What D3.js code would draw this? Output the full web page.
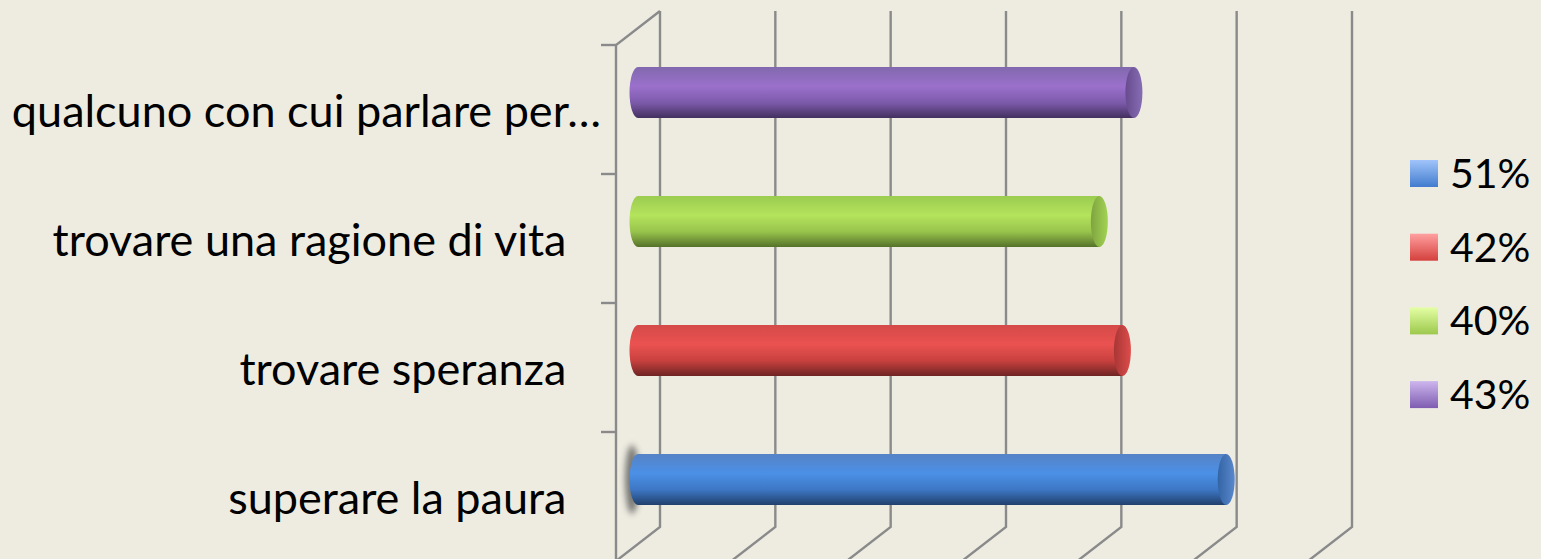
<!DOCTYPE html>
<html>
<head>
<meta charset="utf-8">
<script src="https://cdn.jsdelivr.net/npm/d3@7"></script>
<style>
  html, body { margin: 0; padding: 0; background: #EEECE1; }
  svg { display: block; }
  text { font-family: "Lato", "Open Sans", sans-serif; fill: #000; white-space: pre; }
</style>
</head>
<body>
<div id="chart"></div>
<script>
// chart data
var categories = ["superare la paura", "trovare speranza", "trovare una ragione di vita", "qualcuno con cui parlare per…"];
var values = [51, 42, 40, 43];
var seriesNames = ["51%", "42%", "40%", "43%"];
var xTicks = [0, 10, 20, 30, 40, 50, 60];

// colours of each series: [top, highlight, lower, bottom] and legend [light, dark]
var barColors = [
  ["#5683C6", "#4B90E6", "#3D77C4", "#213F6C"],
  ["#D44A48", "#EA5250", "#C8413F", "#6E2423"],
  ["#9CCC50", "#B4E35C", "#98C44C", "#55722A"],
  ["#8169AE", "#9B70CC", "#7C5AAA", "#43305F"]
];
var legendColors = [
  ["#A0C4FA", "#427CCE"],
  ["#FFA0A0", "#D4403C"],
  ["#E4FFA4", "#9CC84C"],
  ["#CDB6EE", "#7E5CB0"]
];

var W = 1541, H = 559;
var frontX = 616, frontTop = 45, frontBottom = 561;
var depthX = 44, depthY = -34;
var gridColor = "#8A8A8A";

var svg = d3.select("#chart").append("svg")
  .attr("width", W).attr("height", H);

svg.append("rect").attr("width", W).attr("height", H).attr("fill", "#EEECE1");

var defs = svg.append("defs");

var x = d3.scaleLinear().domain([0, 60]).range([0, 692]);
var y = d3.scaleBand()
  .domain(categories.slice().reverse())
  .range([frontTop, frontBottom])
  .paddingInner(0).paddingOuter(0);

// gradients
barColors.forEach(function(c, i) {
  var g = defs.append("linearGradient").attr("id", "bar" + i)
    .attr("x1", 0).attr("y1", 0).attr("x2", 0).attr("y2", 1);
  g.append("stop").attr("offset", "0%").attr("stop-color", c[0]);
  g.append("stop").attr("offset", "38%").attr("stop-color", c[1]);
  g.append("stop").attr("offset", "70%").attr("stop-color", c[2]);
  g.append("stop").attr("offset", "100%").attr("stop-color", c[3]);

  var cap = defs.append("linearGradient").attr("id", "cap" + i)
    .attr("x1", 0).attr("y1", 0).attr("x2", 1).attr("y2", 0);
  cap.append("stop").attr("offset", "0%").attr("stop-color", d3.color(c[2]).darker(0.5));
  cap.append("stop").attr("offset", "100%").attr("stop-color", d3.color(c[0]).brighter(0.1));

  var lg = defs.append("linearGradient").attr("id", "leg" + i)
    .attr("x1", 0).attr("y1", 0).attr("x2", 0).attr("y2", 1);
  lg.append("stop").attr("offset", "0%").attr("stop-color", legendColors[i][0]);
  lg.append("stop").attr("offset", "100%").attr("stop-color", legendColors[i][1]);
});

defs.append("filter").attr("id", "blur")
  .attr("x", "-100%").attr("y", "-50%").attr("width", "300%").attr("height", "200%")
  .append("feGaussianBlur").attr("stdDeviation", 3);

// walls and gridlines
var grid = svg.append("g")
  .attr("fill", "none")
  .attr("stroke", gridColor)
  .attr("stroke-width", 2.4);

var backX = frontX + depthX;
var backTop = frontTop + depthY;
var backBottom = frontBottom + depthY;

grid.selectAll(".gv").data(xTicks).enter().append("path")
  .attr("class", "gv")
  .attr("d", function(t) {
    var bx = backX + x(t);
    return "M" + bx + "," + backTop +
      "L" + bx + "," + backBottom +
      "L" + (bx - depthX) + "," + (backBottom - depthY);
  });

// left wall: top edge and front axis
grid.append("path")
  .attr("d", "M" + backX + "," + backTop + "L" + frontX + "," + frontTop + "L" + frontX + "," + frontBottom);

// category ticks on the front axis
var bounds = y.domain().map(function(d) { return y(d); }).concat([frontBottom]);
grid.selectAll(".tk").data(bounds).enter().append("line")
  .attr("class", "tk")
  .attr("x1", frontX - 15).attr("x2", frontX)
  .attr("y1", function(d) { return d; }).attr("y2", function(d) { return d; });

// cylinders
var r = 25.5, rx = 8.5;
var barX0 = frontX + depthX / 2;

var bars = svg.append("g").selectAll("g").data(categories).enter().append("g");

function yc(d) { return y(d) + y.bandwidth() / 2 + depthY / 2; }

// soft shadow behind the lowest bar
bars.filter(function(d, i) { return i === 0; }).append("ellipse")
  .attr("cx", barX0 - 6).attr("cy", function(d) { return yc(d); })
  .attr("rx", 7).attr("ry", r + 9)
  .attr("fill", "#444").attr("opacity", 0.7)
  .attr("filter", "url(#blur)");

bars.append("path")
  .attr("fill", function(d, i) { return "url(#bar" + i + ")"; })
  .attr("d", function(d, i) {
    var c = yc(d), x1 = barX0 + x(values[i]);
    return "M" + x1 + "," + (c - r) +
      "L" + barX0 + "," + (c - r) +
      "A" + rx + "," + r + " 0 0 0 " + barX0 + "," + (c + r) +
      "L" + x1 + "," + (c + r) + "Z";
  });

bars.append("ellipse")
  .attr("cx", function(d, i) { return barX0 + x(values[i]); })
  .attr("cy", function(d) { return yc(d); })
  .attr("rx", rx).attr("ry", r)
  .attr("fill", function(d, i) { return "url(#cap" + i + ")"; });

// category labels
var labelTrail = ["   ", "   ", "   ", ""];
svg.append("g").selectAll("text").data(categories).enter().append("text")
  .attr("x", 601)
  .attr("y", function(d) { return y(d) + y.bandwidth() / 2 + 17.5; })
  .attr("text-anchor", "end")
  .attr("font-size", 45)
  .text(function(d, i) { return d + labelTrail[i]; });

// legend
var legend = svg.append("g").selectAll("g").data(seriesNames).enter().append("g")
  .attr("transform", function(d, i) { return "translate(1410," + (160 + i * 73.7) + ")"; });

legend.append("rect")
  .attr("width", 28).attr("height", 27)
  .attr("fill", function(d, i) { return "url(#leg" + i + ")"; });

legend.append("text")
  .attr("x", 40).attr("y", 28)
  .attr("font-size", 41)
  .text(function(d) { return d; });
</script>
</body>
</html>
